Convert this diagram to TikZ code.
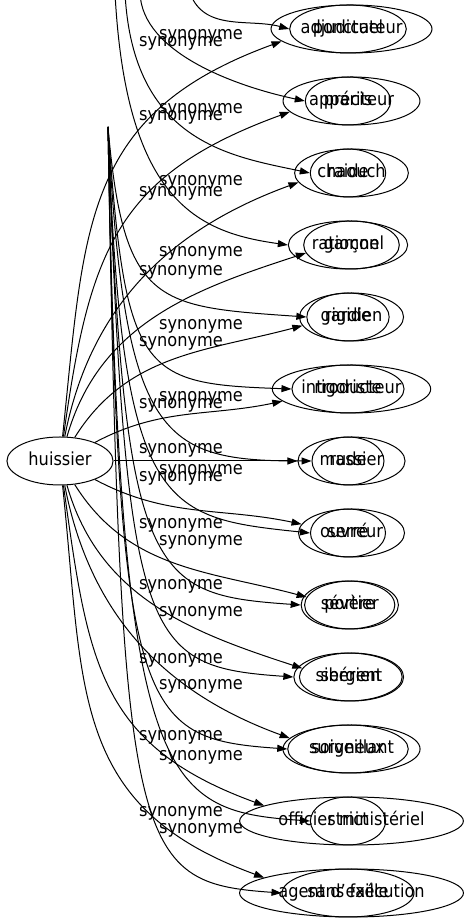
\documentclass[tikz,border=0pt]{standalone}
\usepackage{fontspec}
\setmainfont{DejaVu Sans}[FakeStretch=0.9]
\usetikzlibrary{shapes.geometric,arrows.meta}

\tikzset{
  word/.style={ellipse, draw, inner xsep=6pt, inner ysep=0pt, text height=13pt, text depth=4pt,
    minimum width=72pt, minimum height=48pt, font=\fontsize{18}{21}\selectfont},
  lab/.style={inner sep=0pt, font=\fontsize{18}{21}\selectfont},
}

\begin{document}
\begin{tikzpicture}[x=1pt, y=1pt, line width=1pt, >={Triangle[length=10pt,width=7pt]}]
    \useasboundingbox (0,0) rectangle (468,923);

    % centre
    \node[word] (huissier) at (60,462) {huissier};

    % huissier's synonyms
    \node[word] (adjudicateur) at (351.5,894) {adjudicateur};
    \node[word] (appariteur) at (351.5,822) {appariteur};
    \node[word] (chaouch) at (351.5,750) {chaouch};
    \node[word] (garcon) at (351.5,678) {garçon};
    \node[word] (gardien) at (351.5,606) {gardien};
    \node[word] (introducteur) at (351.5,534) {introducteur};
    \node[word] (massier) at (351.5,462) {massier};
    \node[word] (ouvreur) at (351.5,390) {ouvreur};
    \node[word] (portier) at (351.5,318) {portier};
    \node[word] (sergent) at (351.5,246) {sergent};
    \node[word] (surveillant) at (351.5,174) {surveillant};
    \node[word] (officier) at (351.5,102) {officier ministériel};
    \node[word] (agent) at (351.5,30) {agent d'exécution};

    % the second set
    \node[word] (ponctuel) at (348,894) {ponctuel};
    \node[word] (precis) at (348,822) {précis};
    \node[word] (raide) at (348,750) {raide};
    \node[word] (rationnel) at (348,678) {rationnel};
    \node[word] (rigide) at (348,606) {rigide};
    \node[word] (rigoriste) at (348,534) {rigoriste};
    \node[word] (rude) at (348,462) {rude};
    \node[word] (serre) at (348,390) {serré};
    \node[word] (severe) at (348,318) {sévère};
    \node[word] (siberien) at (348,246) {sibérien};
    \node[word] (soigneux) at (348,174) {soigneux};
    \node[word] (strict) at (348,102) {strict};
    \node[word] (sansfaille) at (348,30) {sans faille};

    % free ends of the second set
    \coordinate (srcA) at (190,930);
    \coordinate (srcB) at (140,930);
    \coordinate (srcC) at (125,930);
    \coordinate (srcD) at (115,930);
    \coordinate (src) at (108,796);

    % huissier edges
    \draw[->] (huissier) to[out=84, in=200, looseness=1.2] (adjudicateur.190);
    \draw[->] (huissier) to[out=82, in=200, looseness=1.2] (appariteur.190);
    \draw[->] (huissier) to[out=79, in=200] (chaouch.190);
    \draw[->] (huissier) to[out=74, in=198] (garcon.190);
    \draw[->] (huissier) to[out=58, in=195] (gardien.190);
    \draw[->] (huissier) to[out=28, in=192] (introducteur.190);
    \draw[->] (huissier) -- (massier);
    \draw[->] (huissier) to[out=-28, in=168] (ouvreur.170);
    \draw[->] (huissier) to[out=-58, in=165] (portier.170);
    \draw[->] (huissier) to[out=-74, in=162] (sergent.170);
    \draw[->] (huissier) to[out=-79, in=160] (surveillant.170);
    \draw[->] (huissier) to[out=-82, in=160, looseness=1.2] (officier.170);
    \draw[->] (huissier) to[out=-84, in=160, looseness=1.2] (agent.170);

    % second set edges
    \draw[->] (srcA) to[out=-70, in=165] (ponctuel.west);
    \draw[->] (srcB) to[out=-88, in=168, out distance=60, in distance=70] (precis.west);
    \draw[->] (srcC) to[out=-87, in=168, out distance=150, in distance=80] (raide.west);
    \draw[->] (srcD) to[out=-87, in=172, out distance=210, in distance=90] (rationnel.west);
    \draw[->] (src) to[out=-85, in=176, out distance=180, in distance=150] (rigide.west);
    \draw[->] (src) to[out=-86, in=178, out distance=250, in distance=150] (rigoriste.west);
    \draw[->] (src) to[out=-87, in=180, out distance=315, in distance=150] (rude.west);
    \draw[->] (src) to[out=-88, in=174, out distance=385, in distance=150] (serre.west);
    \draw[->] (src) to[out=-88, in=176, out distance=455, in distance=150] (severe.west);
    \draw[->] (src) to[out=-88, in=176, out distance=520, in distance=150] (siberien.west);
    \draw[->] (src) to[out=-89, in=176, out distance=590, in distance=150] (soigneux.west);
    \draw[->] (src) to[out=-89, in=176, out distance=660, in distance=150] (strict.west);
    \draw[->] (src) to[out=-89, in=176, out distance=730, in distance=150] (sansfaille.west);

    % labels
    \node[lab] (lblA1) at (201,887) {synonyme};
    \node[lab] (lblA2) at (201,813) {synonyme};
    \node[lab] (lblA3) at (201,741) {synonyme};
    \node[lab] (lblA4) at (201,670) {synonyme};
    \node[lab] (lblA5) at (201,597) {synonyme};
    \node[lab] (lblA6) at (201,525) {synonyme};
    \node[lab] (lblA7) at (201,452) {synonyme};
    \node[lab] (lblA8) at (201,381) {synonyme};
    \node[lab] (lblA9) at (201,310) {synonyme};
    \node[lab] (lblA10) at (201,237) {synonyme};
    \node[lab] (lblA11) at (201,166) {synonyme};
    \node[lab] (lblA12) at (201,93) {synonyme};
    \node[lab] (lblB1) at (181,880) {synonyme};
    \node[lab] (lblB2) at (181,806) {synonyme};
    \node[lab] (lblB3) at (181,730) {synonyme};
    \node[lab] (lblB4) at (181,651) {synonyme};
    \node[lab] (lblB5) at (181,580) {synonyme};
    \node[lab] (lblB6) at (181,518) {synonyme};
    \node[lab] (lblB7) at (181,473) {synonyme};
    \node[lab] (lblB8) at (181,445) {synonyme};
    \node[lab] (lblB9) at (181,398) {synonyme};
    \node[lab] (lblB10) at (181,337) {synonyme};
    \node[lab] (lblB11) at (181,263) {synonyme};
    \node[lab] (lblB12) at (181,186) {synonyme};
    \node[lab] (lblB13) at (181,110) {synonyme};
\end{tikzpicture}
\end{document}
